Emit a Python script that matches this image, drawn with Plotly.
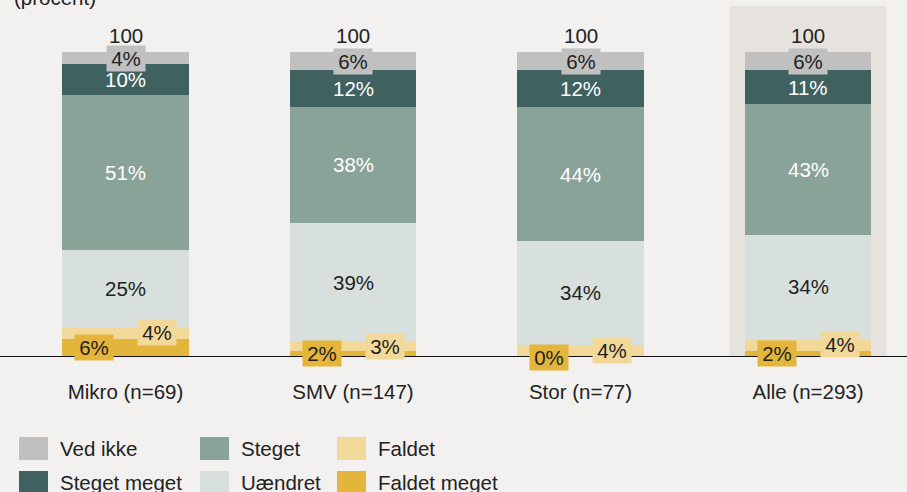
import plotly.graph_objects as go

categories = ["Mikro (n=69)", "SMV (n=147)", "Stor (n=77)", "Alle (n=293)"]
faldet_meget = [6, 2, 0, 2]
faldet = [4, 3, 4, 4]
uaendret = [25, 39, 34, 34]
steget = [51, 38, 44, 43]
steget_meget = [10, 12, 12, 11]
ved_ikke = [4, 6, 6, 6]
totals = [100, 100, 100, 100]
highlight_category = "Alle (n=293)"

series = [
    ("Faldet meget", faldet_meget, "#E3B53A", "#222222", "box_left"),
    ("Faldet", faldet, "#F2D99A", "#222222", "box_right"),
    ("Uændret", uaendret, "#D7E0DD", "#222222", "plain"),
    ("Steget", steget, "#8AA399", "#FFFFFF", "plain"),
    ("Steget meget", steget_meget, "#3F615F", "#FFFFFF", "plain"),
    ("Ved ikke", ved_ikke, "#C0C0C0", "#222222", "box"),
]

FONT = "Liberation Sans, Arial, sans-serif"
FS = 20.5
BG = "#F2F1EF"
xs = list(range(len(categories)))
bar_w = 0.554

fig = go.Figure()
for name, vals, color, tcol, kind in series:
    fig.add_trace(go.Bar(x=xs, y=vals, name=name, marker=dict(color=color, line=dict(width=0)),
                         width=bar_w, showlegend=False, hoverinfo="skip"))

annotations = []
cum = [0] * len(categories)
for name, vals, color, tcol, kind in series:
    for i, v in enumerate(vals):
        mid = cum[i] + v / 2
        a = dict(x=xs[i], y=mid, xref="x", yref="y", text=f"{v}%", showarrow=False,
                 font=dict(family=FONT, size=FS, color=tcol), xanchor="center", yanchor="middle")
        if kind != "plain":
            a.update(bgcolor=color, width=36, height=23, borderpad=1)
        if kind == "box_left":
            a["xshift"] = -31.5
        elif kind == "box_right":
            a["xshift"] = 31.5
        annotations.append(a)
        cum[i] += v

for i, t in enumerate(totals):
    annotations.append(dict(x=xs[i], y=t, xref="x", yref="y", text=str(t), showarrow=False,
                            font=dict(family=FONT, size=FS, color="#222222"),
                            xanchor="center", yanchor="middle", yshift=17))

annotations.append(dict(x=12 / 907, y=1 - 11 / 357, xref="paper", yref="paper", text="(procent)",
                        showarrow=False, xanchor="left", yanchor="bottom",
                        font=dict(family=FONT, size=FS, color="#222222")))

# manual legend (column-major order)
legend_items = [
    ("Ved ikke", "#C0C0C0"), ("Steget meget", "#3F615F"),
    ("Steget", "#8AA399"), ("Uændret", "#D7E0DD"),
    ("Faldet", "#F2D99A"), ("Faldet meget", "#E3B53A"),
]
col_x = [19, 200, 337]
row_y = [437, 471]
H = 357.0
W = 907.0
shapes = []
for k, (lab, col) in enumerate(legend_items):
    c, r = k // 2, k % 2
    x0 = col_x[c]
    y0 = row_y[r]
    shapes.append(dict(type="rect", xref="paper", yref="paper",
                       x0=x0 / W, x1=(x0 + 29) / W, y0=(H - y0) / H, y1=(H - y0 - 23) / H,
                       fillcolor=col, line=dict(width=0), layer="above"))
    annotations.append(dict(x=(x0 + 39) / W, y=(H - y0 - 11.5) / H, xref="paper", yref="paper",
                            text=lab, showarrow=False, xanchor="left", yanchor="middle",
                            font=dict(family=FONT, size=FS, color="#222222")))

hi = categories.index(highlight_category)
shapes.append(dict(type="rect", xref="x", yref="y", x0=hi - 0.345, x1=hi + 0.345, y0=0, y1=115.1,
                   fillcolor="#E6E3DF", line=dict(width=0), layer="below"))
shapes.append(dict(type="line", xref="paper", yref="y", x0=0, x1=1, y0=0, y1=0,
                   line=dict(color="#111111", width=2), layer="above"))

x0r = -125.5 / 227.5
fig.update_layout(
    width=907, height=492,
    margin=dict(l=0, r=0, t=0, b=135),
    paper_bgcolor=BG, plot_bgcolor=BG,
    barmode="stack",
    showlegend=False,
    annotations=annotations,
    shapes=shapes,
    xaxis=dict(range=[x0r, x0r + 907 / 227.5], tickmode="array", tickvals=xs, ticktext=categories,
               showgrid=False, zeroline=False, showline=False, ticks="",
               tickfont=dict(family=FONT, size=FS, color="#222222"), ticklabelstandoff=20),
    yaxis=dict(range=[0, 357 / 3.05], visible=False, showgrid=False, zeroline=False),
)

fig.write_html(
    "out.html",
    config={"displayModeBar": False},
    post_script="document.body.style.margin='0';document.body.style.overflow='hidden';"
                "document.body.style.background='" + BG + "';",
)
